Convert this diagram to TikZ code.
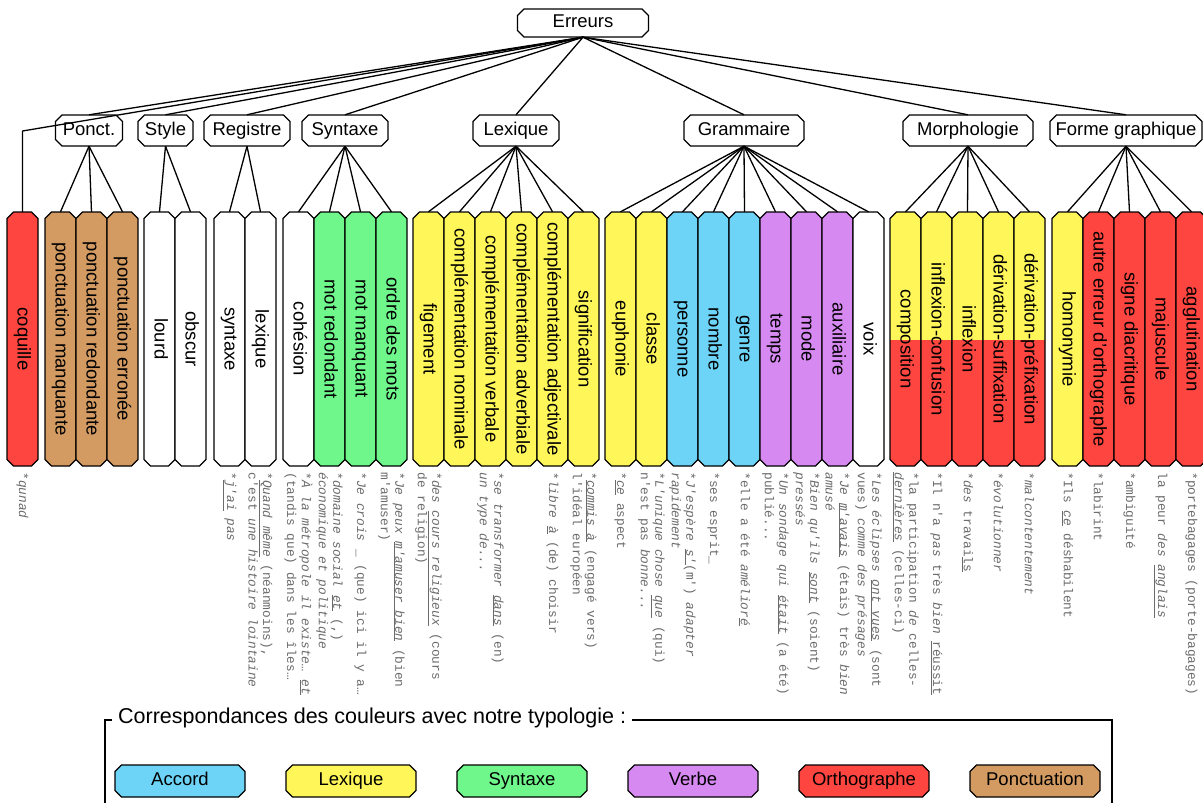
\documentclass[tikz,border=0pt]{standalone}
\usepackage{fontspec}
\usepackage{graphicx}
\setmainfont{Liberation Sans}
\newfontfamily\exfont{Liberation Mono}
\usetikzlibrary{calc}
\definecolor{cRed}{HTML}{FF453F}
\definecolor{cBrown}{HTML}{D39A62}
\definecolor{cGreen}{HTML}{6FF78C}
\definecolor{cYellow}{HTML}{FFF75A}
\definecolor{cBlue}{HTML}{6DD4F8}
\definecolor{cPurple}{HTML}{D789F2}
\tikzset{
  bx/.style={draw=black, line width=1.3pt, line join=round},
  lbl/.style={inner sep=0pt, font=\fontsize{18.5}{22}\selectfont},
  hz/.style={text height=13.5pt, text depth=4pt},
  ex/.style={rotate=-90, anchor=west, align=left, inner sep=0pt, text=black!58,
    font=\exfont\fontsize{12.8}{14.6}\selectfont},
  conn/.style={line width=1.3pt, line join=round},
}
% chamfered outline: options, cx, cy, w, h
\newcommand\chshape[5]{\path[#1] ({#2-#4/2+6.5},{#3-#5/2}) -- ({#2+#4/2-6.5},{#3-#5/2}) -- ({#2+#4/2},{#3-#5/2+6.5}) -- ({#2+#4/2},{#3+#5/2-6.5}) -- ({#2+#4/2-6.5},{#3+#5/2}) -- ({#2-#4/2+6.5},{#3+#5/2}) -- ({#2-#4/2},{#3+#5/2-6.5}) -- ({#2-#4/2},{#3-#5/2+6.5}) -- cycle;}
% name, cx, cy, w, h, fill, node options, text
\newcommand\chnode[8]{\chshape{bx, fill=#6}{#2}{#3}{#4}{#5}
  \node[lbl, minimum width=#4pt, minimum height=#5pt, #7] (#1) at (#2,#3) {#8};}
\newcommand\leafnode[4]{\chnode{#1}{#2}{339}{31}{254}{#3}{}{\rotatebox{-90}{\vphantom{dp}#4}}}
\newcommand\splitleaf[3]{\chshape{fill=cRed}{#2}{339}{31}{254}
  \begin{scope}\clip ({#2-20},200) rectangle ({#2+20},339);\chshape{fill=cYellow}{#2}{339}{31}{254}\end{scope}
  \chshape{bx}{#2}{339}{31}{254}
  \node[lbl, minimum width=31pt, minimum height=254pt] (#1) at (#2,339) {\rotatebox{-90}{\vphantom{dp}#3}};}
\begin{document}
\begin{tikzpicture}[x=1pt,y=-1pt]
\useasboundingbox (0,0) rectangle (1203,803);
\clip (0,0) rectangle (1203,803);

% root and categories
\chnode{err}{583}{23}{131}{28}{white}{hz}{Erreurs}
\chnode{cP}{89}{130.5}{67}{31}{white}{hz}{Ponct.}
\chnode{cS}{165.5}{130.5}{55}{31}{white}{hz}{Style}
\chnode{cR}{247}{130.5}{86}{31}{white}{hz}{Registre}
\chnode{cSy}{345}{130.5}{86}{31}{white}{hz}{Syntaxe}
\chnode{cL}{516}{130.5}{86}{31}{white}{hz}{Lexique}
\chnode{cG}{744}{130.5}{120}{31}{white}{hz}{Grammaire}
\chnode{cM}{968}{130.5}{130}{31}{white}{hz}{Morphologie}
\chnode{cF}{1126}{130.5}{152}{31}{white}{hz}{Forme graphique}

% leaves
\leafnode{coq}{22.5}{cRed}{coquille}
\leafnode{p1}{60.5}{cBrown}{ponctuation manquante}
\leafnode{p2}{91.5}{cBrown}{ponctuation redondante}
\leafnode{p3}{122.5}{cBrown}{ponctuation erronée}
\leafnode{s1}{159.5}{white}{lourd}
\leafnode{s2}{190.5}{white}{obscur}
\leafnode{r1}{229.5}{white}{syntaxe}
\leafnode{r2}{260.5}{white}{lexique}
\leafnode{y1}{298.5}{white}{cohésion}
\leafnode{y2}{329.5}{cGreen}{mot redondant}
\leafnode{y3}{360.5}{cGreen}{mot manquant}
\leafnode{y4}{391.5}{cGreen}{ordre des mots}
\leafnode{x1}{428.5}{cYellow}{figement}
\leafnode{x2}{459.5}{cYellow}{complémentation nominale}
\leafnode{x3}{490.5}{cYellow}{complémentation verbale}
\leafnode{x4}{521.5}{cYellow}{complémentation adverbiale}
\leafnode{x5}{552.5}{cYellow}{complémentation adjectivale}
\leafnode{x6}{583.5}{cYellow}{signification}
\leafnode{g1}{620.5}{cYellow}{euphonie}
\leafnode{g2}{651.5}{cYellow}{classe}
\leafnode{g3}{682.5}{cBlue}{personne}
\leafnode{g4}{713.5}{cBlue}{nombre}
\leafnode{g5}{744.5}{cBlue}{genre}
\leafnode{g6}{775.5}{cPurple}{temps}
\leafnode{g7}{806.5}{cPurple}{mode}
\leafnode{g8}{837.5}{cPurple}{auxiliaire}
\leafnode{g9}{868.5}{white}{voix}
\splitleaf{m1}{905.5}{composition}
\splitleaf{m2}{936.5}{inflexion-confusion}
\splitleaf{m3}{967.5}{inflexion}
\splitleaf{m4}{998.5}{dérivation-suffixation}
\splitleaf{m5}{1029.5}{dérivation-préfixation}
\leafnode{f1}{1067.5}{cYellow}{homonymie}
\leafnode{f2}{1098.5}{cRed}{autre erreur d'orthographe}
\leafnode{f3}{1129.5}{cRed}{signe diacritique}
\leafnode{f4}{1160.5}{cRed}{majuscule}
\leafnode{f5}{1191.5}{cRed}{agglutination}

% connectors
\coordinate (ck) at (22.5,131);
\draw[conn] (err.south) -- (ck) -- (coq.north);
\foreach \c in {cP,cS,cR,cSy,cL,cG,cM,cF} \draw[conn] (err.south) -- (\c.north);
\foreach \l in {p1,p2,p3} \draw[conn] (cP.south) -- (\l.north);
\foreach \l in {s1,s2} \draw[conn] (cS.south) -- (\l.north);
\foreach \l in {r1,r2} \draw[conn] (cR.south) -- (\l.north);
\foreach \l in {y1,y2,y3,y4} \draw[conn] (cSy.south) -- (\l.north);
\foreach \l in {x1,x2,x3,x4,x5,x6} \draw[conn] (cL.south) -- (\l.north);
\foreach \l in {g1,g2,g3,g4,g5,g6,g7,g8,g9} \draw[conn] (cG.south) -- (\l.north);
\foreach \l in {m1,m2,m3,m4,m5} \draw[conn] (cM.south) -- (\l.north);
\foreach \l in {f1,f2,f3,f4,f5} \draw[conn] (cF.south) -- (\l.north);

% examples
\node[ex] (e1) at ($(coq.south)+(0,6)$) {*\textit{qunad}};
\node[ex] (e2) at ($(r1.south)+(0,6)$) {*\underline{\textit{j'ai}} \textit{pas}};
\node[ex] (e3) at ($(r2.south)+(0,6)$) {*\underline{\textit{Quand même}} (néanmoins),\\c'est \textit{une histoire lointaine}};
\node[ex] (e4) at ($(y1.south)+(0,6)$) {*\textit{À la métropole il existe…} \underline{\textit{et}}\\(tandis que) dans les îles…};
\node[ex] (e5) at ($(y2.south)+(0,6)$) {*\textit{domaine social} \underline{\textit{et}} (,)\\\textit{économique et politique}};
\node[ex] (e6) at ($(y3.south)+(0,6)$) {*\textit{Je crois} \_ (que) ici il y a…};
\node[ex] (e7) at ($(y4.south)+(0,6)$) {*\textit{Je peux} \underline{\textit{m'amuser bien}} (bien\\m'amuser)};
\node[ex] (e8) at ($(x1.south)+(0,6)$) {*\textit{des} \underline{\textit{cours religieux}} (cours\\de religion)};
\node[ex] (e9) at ($(x3.south)+(0,6)$) {*\textit{se transformer} \underline{\textit{dans}} (en)\\\textit{un type de...}};
\node[ex] (e10) at ($(x5.south)+(0,6)$) {*\textit{libre} \underline{\textit{à}} (de) choisir};
\node[ex] (e11) at ($(x6.south)+(0,6)$) {*\underline{\textit{commis à}} (engagé vers)\\l'idéal européen};
\node[ex] (e12) at ($(g1.south)+(0,6)$) {*\underline{\textit{ce}} aspect};
\node[ex] (e13) at ($(g2.south)+(0,6)$) {*\textit{L'unique chose} \underline{\textit{que}} (qui)\\n'est pas \textit{bonne...}};
\node[ex] (e14) at ($(g3.south)+(0,6)$) {*\textit{J'espère} \underline{\textit{s'}}(m') \textit{adapter}\\\textit{rapidement}};
\node[ex] (e15) at ($(g4.south)+(0,6)$) {*ses esprit\_};
\node[ex] (e16) at ($(g5.south)+(0,6)$) {*elle a été \textit{amélior}\underline{\textit{é}}};
\node[ex] (e17) at ($(g6.south)+(0,6)$) {*\textit{Un sondage qui} \underline{\textit{était}} (a été)\\publié...};
\node[ex] (e18) at ($(g7.south)+(0,6)$) {*\textit{Bien qu'ils} \underline{\textit{sont}} (soient)\\\textit{pressés}};
\node[ex] (e19) at ($(g8.south)+(0,6)$) {*\textit{Je} \underline{\textit{m'avais}} (étais) très \textit{bien}\\\textit{amusé}};
\node[ex] (e20) at ($(g9.south)+(0,6)$) {*\textit{Les éclipses} \underline{\textit{ont vues}} (sont\\vues) \textit{comme des présages}};
\node[ex] (e21) at ($(m1.south)+(0,6)$) {*la participation \textit{de} celles-\\\underline{\textit{dernières}} (celles-ci)};
\node[ex] (e22) at ($(m2.south)+(0,6)$) {*Il n'a \textit{pas} très \textit{bien} \underline{réussit}};
\node[ex] (e23) at ($(m3.south)+(0,6)$) {*\textit{des} travai\underline{ls}};
\node[ex] (e24) at ($(m4.south)+(0,6)$) {*\textit{évolutionner}};
\node[ex] (e25) at ($(m5.south)+(0,6)$) {*\textit{malcontentement}};
\node[ex] (e26) at ($(f1.south)+(0,6)$) {*Ils \underline{\textit{ce}} déshabilent};
\node[ex] (e27) at ($(f2.south)+(0,6)$) {*labirint};
\node[ex] (e28) at ($(f3.south)+(0,6)$) {*ambiguité};
\node[ex] (e29) at ($(f4.south)+(0,6)$) {la peur \textit{des} \underline{\textit{anglais}}};
\node[ex] (e30) at ($(f5.south)+(0,6)$) {*portebagages (porte-bagages)};

% legend
\draw[line width=1.2pt] (105,830) -- (105,720) -- (1112,720) -- (1112,830);
\node[fill=white, anchor=west, inner xsep=6pt, inner ysep=3pt, font=\fontsize{21.5}{25}\selectfont] (lt) at (112,718) {Correspondances des couleurs avec notre typologie :};
\chnode{k1}{180}{781}{130}{32}{cBlue}{hz}{Accord}
\chnode{k2}{351}{781}{130}{32}{cYellow}{hz}{Lexique}
\chnode{k3}{522}{781}{130}{32}{cGreen}{hz}{Syntaxe}
\chnode{k4}{693}{781}{130}{32}{cPurple}{hz}{Verbe}
\chnode{k5}{864}{781}{130}{32}{cRed}{hz}{Orthographe}
\chnode{k6}{1035}{781}{130}{32}{cBrown}{hz}{Ponctuation}
\end{tikzpicture}
\end{document}
